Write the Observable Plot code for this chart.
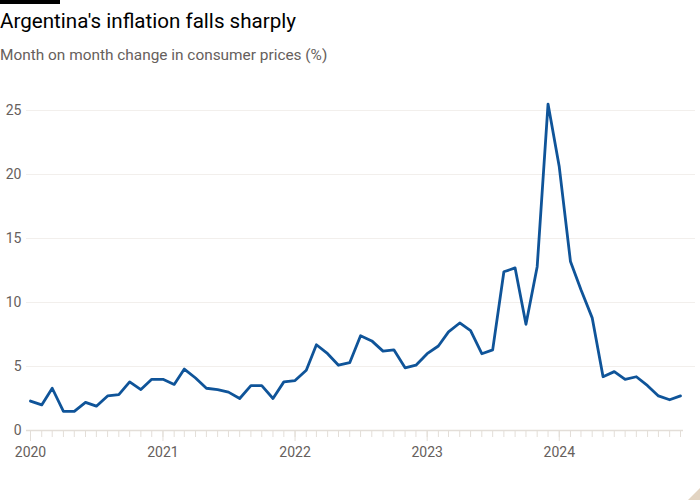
<!DOCTYPE html>
<html><head><meta charset="utf-8">
<script src="https://cdn.jsdelivr.net/npm/d3@7"></script>
<script src="https://cdn.jsdelivr.net/npm/@observablehq/plot@0.6"></script>
<style>
body{margin:0;background:#fff;width:700px;height:500px;overflow:hidden;position:relative;font-family:Roboto,"Noto Sans",sans-serif}
.bar{position:absolute;left:0;top:0;width:60px;height:4px;background:#000}
.title{position:absolute;left:0;top:9px;margin:0;font-size:20.6px;font-weight:400;color:#000;white-space:nowrap}
.sub{position:absolute;left:0;top:46px;margin:0;font-size:15.4px;color:#66605c;white-space:nowrap}
#chart{position:absolute;left:0;top:80px}
.corner{position:absolute;right:0;bottom:0;width:0;height:0;border-style:solid;border-width:0 0 12px 12px;border-color:transparent transparent #e2d4c2 transparent}
</style></head>
<body>
<div class="bar"></div>
<div class="title">Argentina's inflation falls sharply</div>
<div class="sub">Month on month change in consumer prices (%)</div>
<div id="chart"></div>
<div class="corner"></div>
<script>
const years = [2020, 2021, 2022, 2023, 2024];
const v2020 = [2.3, 2.0, 3.3, 1.5, 1.5, 2.2, 1.9, 2.7, 2.8, 3.8, 3.2, 4.0];
const v2021 = [4.0, 3.6, 4.8, 4.1, 3.3, 3.2, 3.0, 2.5, 3.5, 3.5, 2.5, 3.8];
const v2022 = [3.9, 4.7, 6.7, 6.0, 5.1, 5.3, 7.4, 7.0, 6.2, 6.3, 4.9, 5.1];
const v2023 = [6.0, 6.6, 7.7, 8.4, 7.8, 6.0, 6.3, 12.4, 12.7, 8.3, 12.8, 25.5];
const v2024 = [20.6, 13.2, 11.0, 8.8, 4.2, 4.6, 4.0, 4.2, 3.5, 2.7, 2.4, 2.7];
const yTicks = [0, 5, 10, 15, 20, 25];

const series = [v2020, v2021, v2022, v2023, v2024];
const data = [];
series.forEach((arr, i) => arr.forEach((v, m) => data.push({date: new Date(Date.UTC(years[i], m, 1)), value: v})));

const plot = Plot.plot({
  width: 700, height: 420,
  marginTop: 30, marginLeft: 30, marginRight: 20, marginBottom: 70,
  x: {type: "utc", domain: [data[0].date, data[data.length - 1].date], label: null},
  y: {domain: [0, 25], label: null},
  style: {fontFamily: "Roboto, 'Noto Sans', sans-serif", fontSize: "14px", color: "#66605c", background: "#fff", overflow: "visible"},
  marks: [
    Plot.ruleY(yTicks.filter(d => d > 0), {stroke: "#f2efec", strokeWidth: 1, insetLeft: -4, insetRight: -15}),
    Plot.ruleY([0], {stroke: "#e3ded8", strokeWidth: 1.5, insetLeft: -4, insetRight: -3}),
    Plot.axisX({ticks: d3.utcMonth.every(1), tickSize: 7, tickFormat: () => "", stroke: "#e3ded8", label: null}),
    Plot.axisX({ticks: d3.utcYear.every(1), tickSize: 11, tickPadding: 6, tickFormat: d3.utcFormat("%Y"), stroke: "#e3ded8", fill: "#66605c", fontSize: 14, label: null}),
    Plot.axisY({ticks: yTicks, tickSize: 0, tickPadding: 9, fill: "#66605c", fontSize: 14, label: null}),
    Plot.line(data, {x: "date", y: "value", stroke: "#0f5499", strokeWidth: 2.8, strokeLinejoin: "round"})
  ]
});
document.getElementById("chart").appendChild(plot);
</script>
</body></html>
